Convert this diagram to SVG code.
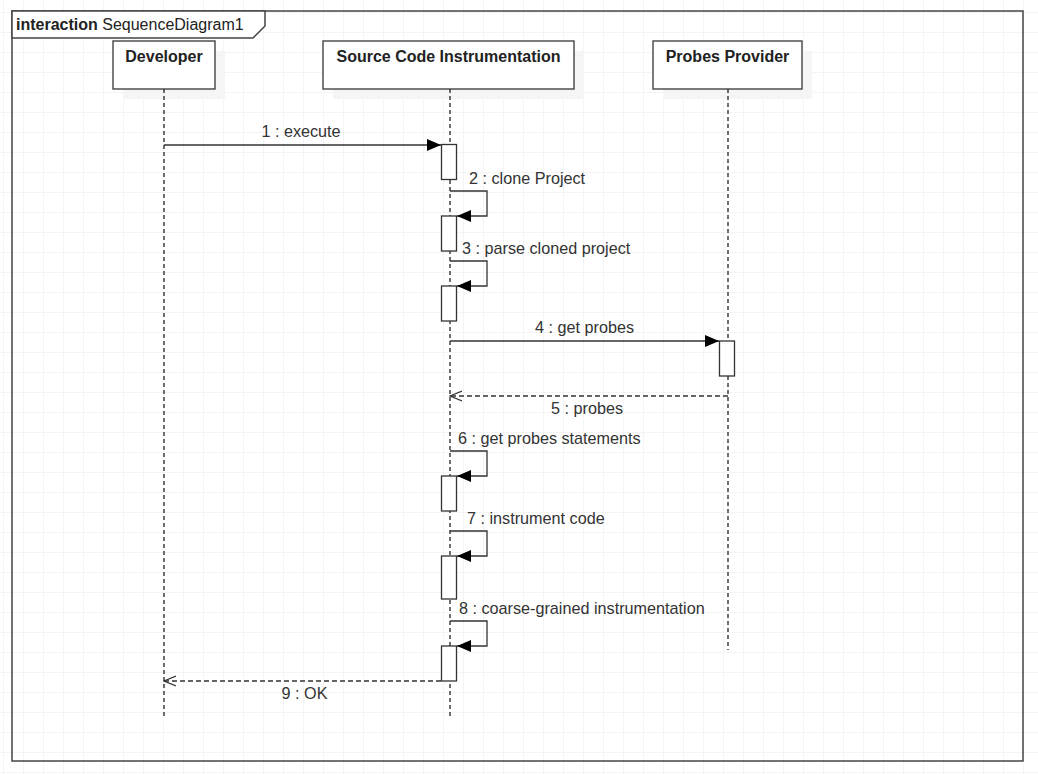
<svg xmlns="http://www.w3.org/2000/svg" width="1038" height="774" viewBox="0 0 1038 774">
<defs>
<pattern id="grid" x="3" y="12" width="20" height="20" patternUnits="userSpaceOnUse">
<path d="M0 0H20M0 0V20" fill="none" stroke="#e9e9e9" stroke-width="1"/>
</pattern>
<marker id="filled" viewBox="0 0 14 12" refX="14" refY="6" markerWidth="14" markerHeight="12" markerUnits="userSpaceOnUse" orient="auto">
<path d="M0 0L14 6L0 12Z" fill="#000"/>
</marker>
<marker id="open" viewBox="0 0 13 12" refX="12" refY="6" markerWidth="13" markerHeight="12" markerUnits="userSpaceOnUse" orient="auto">
<path d="M0 1L12 6L0 11" fill="none" stroke="#333" stroke-width="1.2"/>
</marker>
</defs>
<style>
text{font-family:"Liberation Sans",Arial,sans-serif;fill:#222}
.name{font-size:16px;font-weight:bold;text-anchor:middle}
.lbl{font-size:16.2px;fill:#333}
.mid{text-anchor:middle}
.box{fill:#fff;stroke:#444;stroke-width:1.4}
.shadow{fill:#f5f5f5}
.life{stroke:#222;stroke-width:1.3;stroke-dasharray:4 3;fill:none}
.act{fill:#fff;stroke:#333;stroke-width:1.3}
.msg{stroke:#333;stroke-width:1.3;fill:none}
.ret{stroke:#333;stroke-width:1.3;fill:none;stroke-dasharray:5 3}
</style>
<rect width="1038" height="774" fill="#fff"/>
<rect width="1038" height="774" fill="url(#grid)"/>
<g id="frame">
<rect x="12" y="11" width="1011" height="750" fill="none" stroke="#444" stroke-width="1.5"/>
<path d="M12 11H265V26L253 38H12Z" fill="#fff" stroke="#444" stroke-width="1.5"/>
<text x="16" y="29.5" style="font-size:16px"><tspan font-weight="bold">interaction</tspan> SequenceDiagram1</text>
</g>
<g id="developer">
<rect class="shadow" x="123" y="51" width="102" height="48"/>
<rect class="box" x="113" y="41" width="102" height="48"/>
<text class="name" x="164" y="61.5">Developer</text>
<line class="life" x1="164" y1="89" x2="164" y2="717"/>
</g>
<g id="sci">
<rect class="shadow" x="333" y="51" width="251" height="48"/>
<rect class="box" x="323" y="41" width="251" height="48"/>
<text class="name" x="448.5" y="61.5">Source Code Instrumentation</text>
<line class="life" x1="450" y1="89" x2="450" y2="717"/>
</g>
<g id="probes">
<rect class="shadow" x="663" y="51" width="149" height="48"/>
<rect class="box" x="653" y="41" width="149" height="48"/>
<text class="name" x="727.5" y="61.5">Probes Provider</text>
<line class="life" x1="728" y1="89" x2="728" y2="650"/>
</g>
<g id="activations">
<rect class="act" x="441.5" y="144.5" width="15" height="35"/>
<rect class="act" x="441.5" y="216" width="15" height="35"/>
<rect class="act" x="441.5" y="286" width="15" height="35"/>
<rect class="act" x="719.5" y="341" width="15" height="35"/>
<rect class="act" x="441.5" y="476" width="15" height="35"/>
<rect class="act" x="441.5" y="556" width="15" height="43"/>
<rect class="act" x="441.5" y="646" width="15" height="35"/>
</g>
<g id="connectors">
<line class="msg" x1="164" y1="145" x2="441" y2="145" marker-end="url(#filled)"/>
<path class="msg" d="M450 191H487V216H457" marker-end="url(#filled)"/>
<path class="msg" d="M450 261H487V286H457" marker-end="url(#filled)"/>
<line class="msg" x1="450" y1="341" x2="719" y2="341" marker-end="url(#filled)"/>
<line class="ret" x1="728" y1="396" x2="450" y2="396" marker-end="url(#open)"/>
<path class="msg" d="M450 451H487V476H457" marker-end="url(#filled)"/>
<path class="msg" d="M450 531H487V556H457" marker-end="url(#filled)"/>
<path class="msg" d="M450 621H487V646H457" marker-end="url(#filled)"/>
<line class="ret" x1="441" y1="681" x2="164" y2="681" marker-end="url(#open)"/>
</g>
<g id="labels">
<text class="lbl mid" x="301" y="137">1 : execute</text>
<text class="lbl" x="469" y="183.5">2 : clone Project</text>
<text class="lbl" x="462" y="253.5">3 : parse cloned project</text>
<text class="lbl mid" x="584.5" y="333">4 : get probes</text>
<text class="lbl mid" x="587" y="414">5 : probes</text>
<text class="lbl" x="458" y="443.5">6 : get probes statements</text>
<text class="lbl" x="467" y="523.5">7 : instrument code</text>
<text class="lbl" x="459" y="614">8 : coarse-grained instrumentation</text>
<text class="lbl mid" x="304.5" y="698.5">9 : OK</text>
</g>
</svg>
